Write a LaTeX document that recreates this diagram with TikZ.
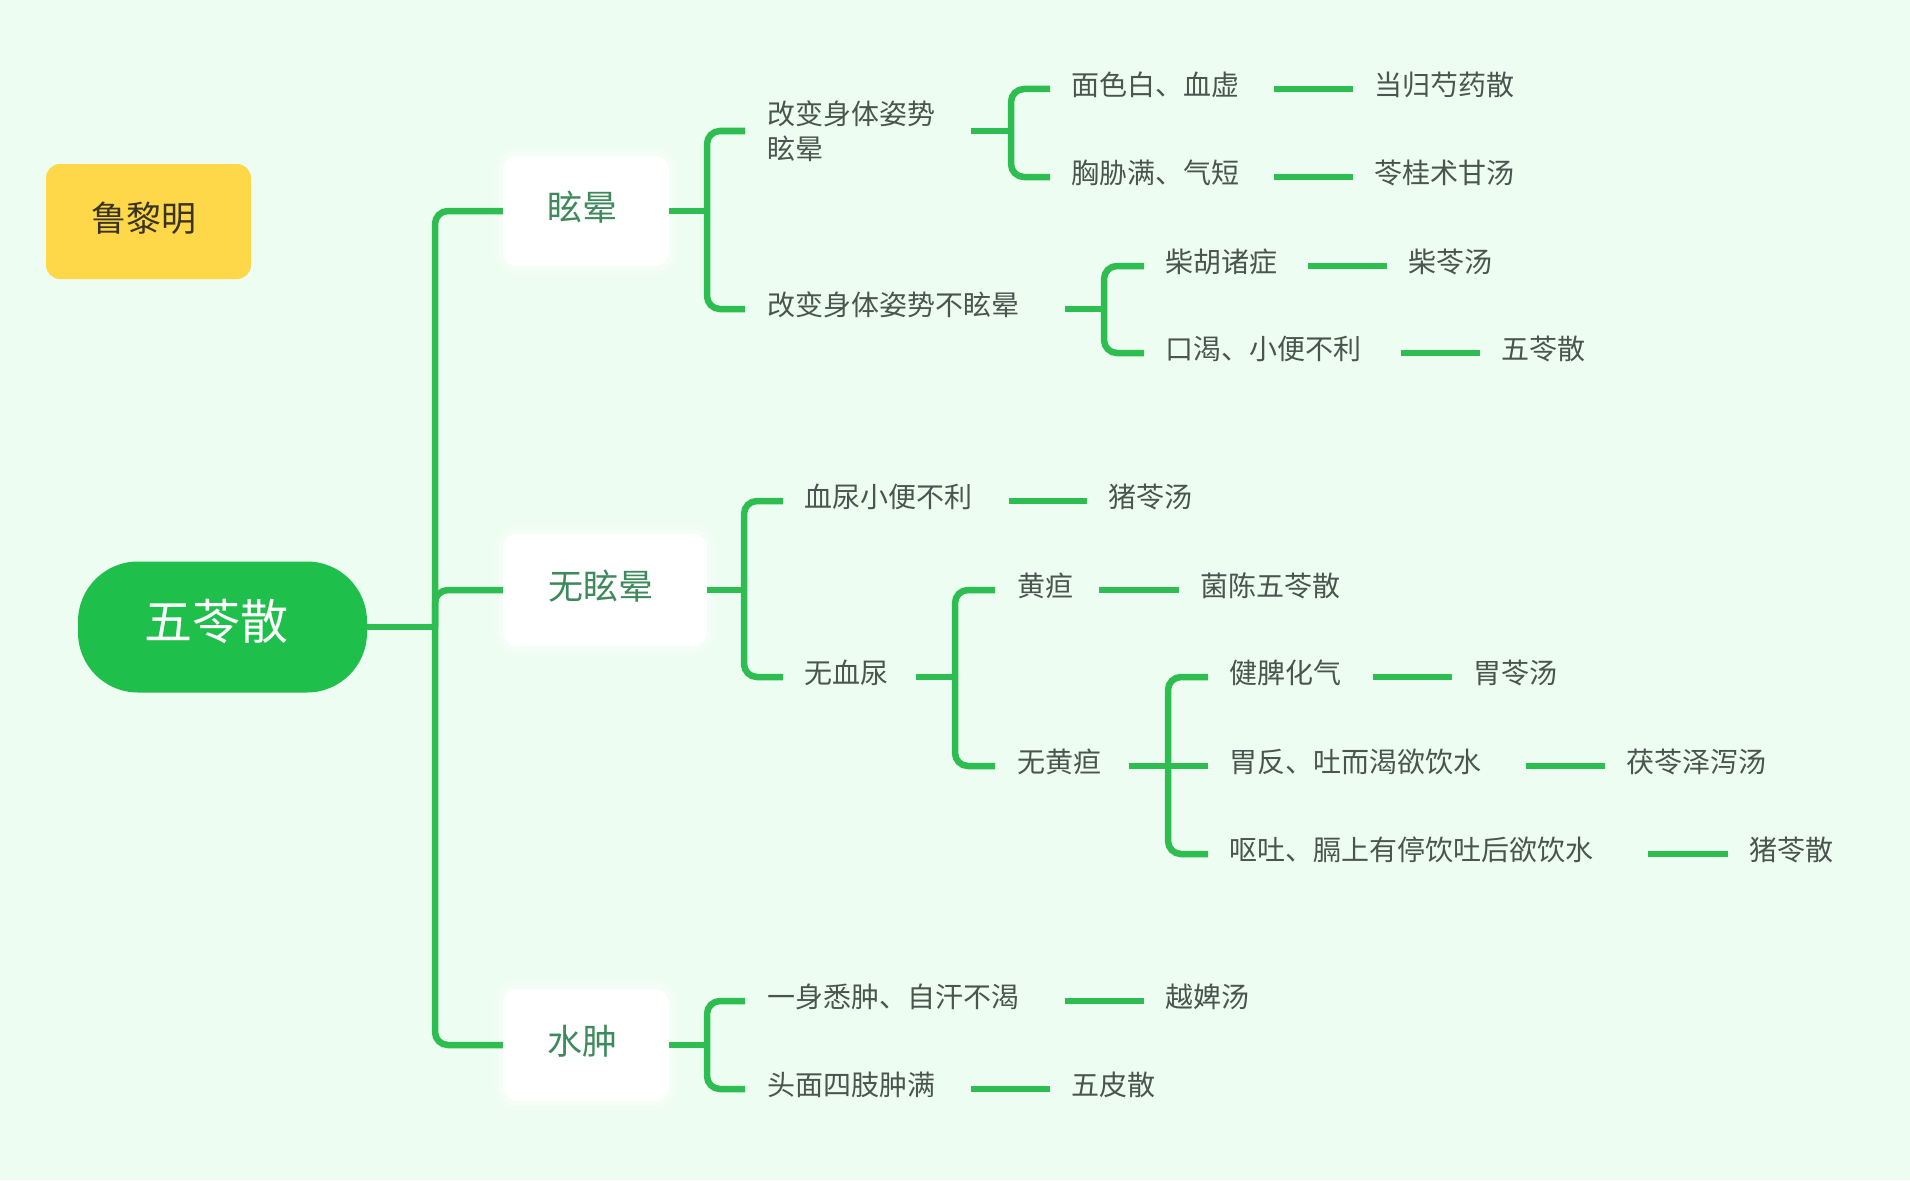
\documentclass[tikz,border=0pt]{standalone}
\usepackage{fontspec}
\setmainfont{Noto Sans CJK SC}
\definecolor{bg}{HTML}{EEFDF2}
\definecolor{lineg}{HTML}{2EBD50}
\definecolor{rootg}{HTML}{1EBF4A}
\definecolor{yel}{HTML}{FFD84A}
\definecolor{ytext}{HTML}{3A3322}
\definecolor{txtg}{HTML}{4A5550}
\definecolor{brg}{HTML}{3E8A5C}
\begin{document}
\begin{tikzpicture}[x=1pt,y=-1pt,
  conn/.style={draw=lineg, line width=6.5pt, rounded corners=13pt},
  dashl/.style={draw=lineg, line width=6.5pt},
  txt/.style={anchor=west, inner sep=0pt, font=\fontsize{28}{35}\selectfont, text=txtg, text height=13.5pt, text depth=0.5pt},
  branch/.style={rounded corners=14pt, fill=white, inner sep=0pt,
    font=\fontsize{35}{40}\selectfont, text=brg, text height=19.7pt, text depth=0.5pt,
    preaction={draw=white, line width=18pt, opacity=0.18},
    preaction={draw=white, line width=9pt, opacity=0.3}},
]
\useasboundingbox (0,0) rectangle (1910,1180);
\fill[bg] (0,0) rectangle (1910,1180);

% author
\node[rounded corners=14pt, fill=yel, minimum width=205pt, minimum height=115pt, inner sep=0pt,
      font=\fontsize{35}{40}\selectfont, text=ytext, text height=19.7pt, text depth=0.5pt] (author) at (148.5,221.5) {\hspace*{-10pt}鲁黎明};

% root
\node[fill=rootg, rounded corners=60pt, minimum width=289pt, minimum height=131pt, inner sep=0pt,
      text=white, font=\fontsize{48}{52}\selectfont, text height=25.5pt, text depth=0.5pt] (root) at (222.5,627) {\hspace*{-12pt}五苓散};

% branches
\node[branch, minimum width=166pt, minimum height=110pt] (b1) at (586,211) {\hspace*{-8pt}眩晕};
\node[branch, minimum width=204pt, minimum height=112pt] (b2) at (605,590) {\hspace*{-8pt}无眩晕};
\node[branch, minimum width=166pt, minimum height=112pt] (b3) at (586,1045) {\hspace*{-8pt}水肿};

% level 2
\node[anchor=west, inner sep=0pt, font=\fontsize{28}{35}\selectfont, text=txtg, align=left] (a1) at (767,131) {改变身体姿势\\眩晕};
\node[txt] (a2) at (767,309) {改变身体姿势不眩晕};
\node[txt] (d1) at (804,501) {血尿小便不利};
\node[txt] (d2) at (804,677) {无血尿};
\node[txt] (g1) at (767,1001) {一身悉肿、自汗不渴};
\node[txt] (g2) at (767,1089) {头面四肢肿满};

% level 3
\node[txt] (c1) at (1071,89) {面色白、血虚};
\node[txt] (c2) at (1071,177) {胸胁满、气短};
\node[txt] (c3) at (1165,266) {柴胡诸症};
\node[txt] (c4) at (1165,353) {口渴、小便不利};
\node[txt] (e1) at (1017,590) {黄疸};
\node[txt] (e2) at (1017,766) {无黄疸};
\node[txt] (f1) at (1229,677) {健脾化气};
\node[txt] (f2) at (1229,766) {胃反、吐而渴欲饮水};
\node[txt] (f3) at (1229,854) {呕吐、膈上有停饮吐后欲饮水};

% leaves
\node[txt] (l1) at (1374,89) {当归芍药散};
\node[txt] (l2) at (1374,177) {苓桂术甘汤};
\node[txt] (l3) at (1408,266) {柴苓汤};
\node[txt] (l4) at (1501,353) {五苓散};
\node[txt] (l5) at (1108,501) {猪苓汤};
\node[txt] (l6) at (1200,590) {菌陈五苓散};
\node[txt] (l7) at (1473,677) {胃苓汤};
\node[txt] (l8) at (1626,766) {茯苓泽泻汤};
\node[txt] (l9) at (1749,854) {猪苓散};
\node[txt] (l10) at (1165,1001) {越婢汤};
\node[txt] (l11) at (1071,1089) {五皮散};

% junctions
\coordinate (jr) at (435,627);
\coordinate (ja) at (707,211);
\coordinate (jc) at (1011,131);
\coordinate (jd) at (1104,309);
\coordinate (je) at (744,590);
\coordinate (jf) at (955,677);
\coordinate (jg) at (1168,766);
\coordinate (jh) at (707,1045);

% root connectors
\draw[dashl] (root.east) -- (jr);
\draw[conn] (b1.west) -| (jr) |- (b3.west);
\draw[conn] (jr) |- (b2.west);

% 眩晕
\draw[dashl] (b1.east) -- (ja);
\draw[conn, shorten <=22pt, shorten >=22pt] (a1.west) -| (ja) |- (a2.west);
\draw[dashl, shorten <=36pt] (a1.east) -- (jc);
\draw[conn, shorten <=21pt, shorten >=21pt] (c1.west) -| (jc) |- (c2.west);
\draw[dashl, shorten <=46pt] (a2.east) -- (jd);
\draw[conn, shorten <=21pt, shorten >=21pt] (c3.west) -| (jd) |- (c4.west);
\draw[dashl, shorten <=35pt, shorten >=21pt] (c1.east) -- (l1.west);
\draw[dashl, shorten <=35pt, shorten >=21pt] (c2.east) -- (l2.west);
\draw[dashl, shorten <=31pt, shorten >=21pt] (c3.east) -- (l3.west);
\draw[dashl, shorten <=40pt, shorten >=21pt] (c4.east) -- (l4.west);

% 无眩晕
\draw[dashl] (b2.east) -- (je);
\draw[conn, shorten <=21pt, shorten >=21pt] (d1.west) -| (je) |- (d2.west);
\draw[dashl, shorten <=37pt, shorten >=21pt] (d1.east) -- (l5.west);
\draw[dashl, shorten <=28pt] (d2.east) -- (jf);
\draw[conn, shorten <=22pt, shorten >=22pt] (e1.west) -| (jf) |- (e2.west);
\draw[dashl, shorten <=26pt, shorten >=21pt] (e1.east) -- (l6.west);
\draw[dashl, shorten <=28pt] (e2.east) -- (jg);
\draw[conn, shorten <=21pt, shorten >=21pt] (f1.west) -| (jg) |- (f3.west);
\draw[dashl, shorten >=21pt] (jg) -- (f2.west);
\draw[dashl, shorten <=32pt, shorten >=21pt] (f1.east) -- (l7.west);
\draw[dashl, shorten <=45pt, shorten >=21pt] (f2.east) -- (l8.west);
\draw[dashl, shorten <=55pt, shorten >=21pt] (f3.east) -- (l9.west);

% 水肿
\draw[dashl] (b3.east) -- (jh);
\draw[conn, shorten <=22pt, shorten >=22pt] (g1.west) -| (jh) |- (g2.west);
\draw[dashl, shorten <=46pt, shorten >=21pt] (g1.east) -- (l10.west);
\draw[dashl, shorten <=36pt, shorten >=21pt] (g2.east) -- (l11.west);
\end{tikzpicture}
\end{document}
